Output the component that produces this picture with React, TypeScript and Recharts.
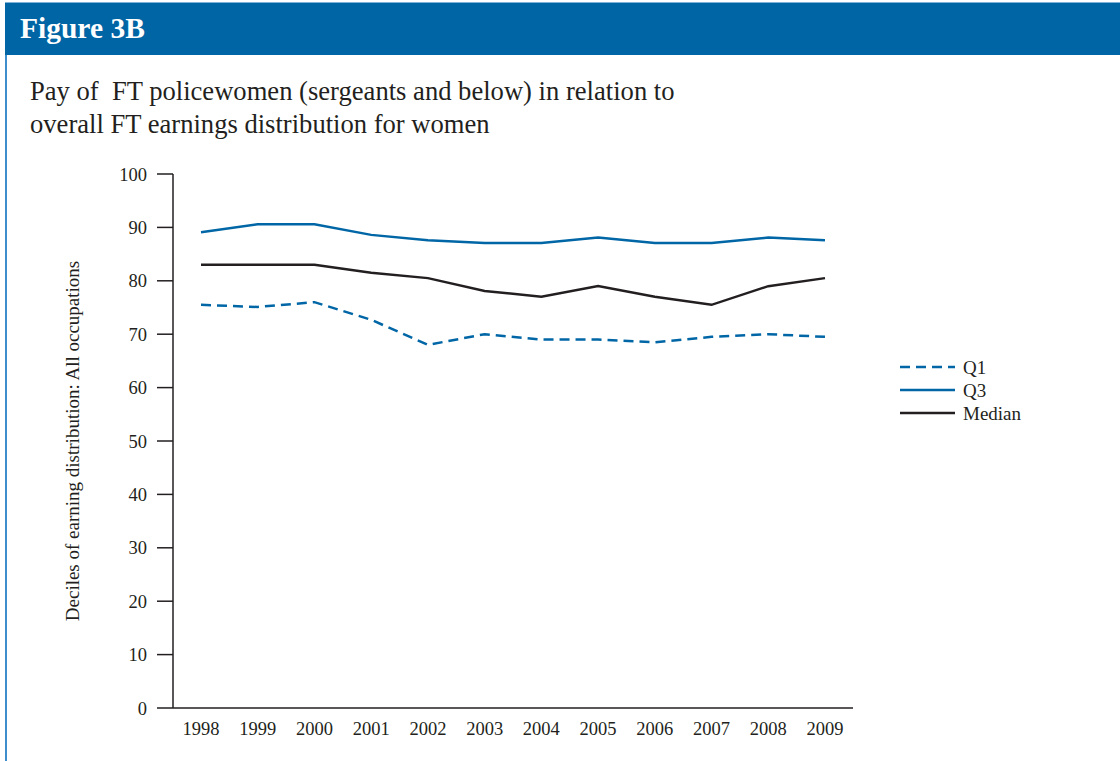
import React from 'react';
import { LineChart, Line, XAxis, YAxis, Legend } from 'recharts';

const years = [1998, 1999, 2000, 2001, 2002, 2003, 2004, 2005, 2006, 2007, 2008, 2009];
const q1 = [75.5, 75.1, 76.0, 72.7, 68.0, 70.0, 69.0, 69.0, 68.5, 69.5, 70.0, 69.5];
const q3 = [89.1, 90.6, 90.6, 88.6, 87.6, 87.1, 87.1, 88.1, 87.1, 87.1, 88.1, 87.6];
const median = [83.0, 83.0, 83.0, 81.5, 80.5, 78.1, 77.0, 79.0, 77.0, 75.5, 79.0, 80.5];
const yTicks = [0, 10, 20, 30, 40, 50, 60, 70, 80, 90, 100];

const data = years.map((y, i) => ({ year: String(y), Q1: q1[i], Q3: q3[i], Median: median[i] }));

const BLUE = '#0066a6';
const DARK = '#231f20';
const SERIF = '"Liberation Serif", "Times New Roman", serif';

const legendItems = [
  { name: 'Q1', color: BLUE, dash: '10 6' },
  { name: 'Q3', color: BLUE, dash: undefined },
  { name: 'Median', color: DARK, dash: undefined },
];

const LegendContent = () => (
  <svg width={170} height={72}>
    {legendItems.map((it, i) => (
      <g key={it.name}>
        <line x1={7} x2={62} y1={12 + i * 23} y2={12 + i * 23} stroke={it.color} strokeWidth={2.5} strokeDasharray={it.dash} />
        <text x={70} y={12 + i * 23} dominantBaseline="central" fontFamily={SERIF} fontSize={19} fill={DARK}>{it.name}</text>
      </g>
    ))}
  </svg>
);

const YLabel = (props: any) => {
  const vb = props.viewBox || {};
  const cx = 72;
  const cy = (vb.y || 0) + (vb.height || 0) / 2;
  return (
    <text x={cx} y={cy} transform={`rotate(-90 ${cx} ${cy})`} textAnchor="middle" dominantBaseline="central" fontFamily={SERIF} fontSize={19} fill={DARK}>
      Deciles of earning distribution: All occupations
    </text>
  );
};

export default function App() {
  return (
    <div style={{ position: 'absolute', left: 0, top: 0, width: 1120, height: 761, background: '#fff', overflow: 'hidden', fontFamily: SERIF }}>
      <div style={{ position: 'absolute', left: 5, top: 2, width: 1115, height: 1, background: '#7fb2d6' }} />
      <div style={{ position: 'absolute', left: 5, top: 3, width: 1115, height: 52, background: '#0065a5' }} />
      <div style={{ position: 'absolute', left: 5, top: 55, width: 2, height: 706, background: '#3d8ccb' }} />
      <div style={{ position: 'absolute', left: 20, top: 11, color: '#fff', fontWeight: 'bold', fontSize: 29.5, lineHeight: '34px' }}>Figure 3B</div>
      <div style={{ position: 'absolute', left: 30, top: 75, color: DARK, fontSize: 26.6, lineHeight: '33px' }}>
        Pay of&nbsp; FT policewomen (sergeants and below) in relation to<br />overall FT earnings distribution for women
      </div>
      <div style={{ position: 'absolute', left: 0, top: 0 }}>
        <LineChart width={1120} height={761} data={data} margin={{ top: 174, right: 267, bottom: 23, left: 0 }}>
          <XAxis
            dataKey="year"
            type="category"
            padding={{ left: 28, right: 28 }}
            interval={0}
            tickLine={false}
            tickSize={0}
            tickMargin={14}
            height={30}
            axisLine={{ stroke: DARK, strokeWidth: 1.5 }}
            tick={{ fill: DARK, fontFamily: SERIF, fontSize: 18.5 }}
          />
          <YAxis
            type="number"
            domain={[0, 100]}
            ticks={yTicks}
            interval={0}
            width={173}
            tickSize={16}
            tickMargin={10}
            axisLine={{ stroke: DARK, strokeWidth: 1.5 }}
            tickLine={{ stroke: DARK, strokeWidth: 1.5 }}
            tick={{ fill: DARK, fontFamily: SERIF, fontSize: 18.5 }}
            label={{ content: YLabel }}
          />
          <Legend
            layout="vertical"
            align="center"
            verticalAlign="middle"
            content={<LegendContent />}
            wrapperStyle={{ position: 'absolute', left: 893, top: 355, width: 170, height: 72 }}
          />
          <Line dataKey="Q1" stroke={BLUE} strokeWidth={2.5} strokeDasharray="10 6" dot={false} isAnimationActive={false} />
          <Line dataKey="Q3" stroke={BLUE} strokeWidth={2.5} dot={false} isAnimationActive={false} />
          <Line dataKey="Median" stroke={DARK} strokeWidth={2.5} dot={false} isAnimationActive={false} />
        </LineChart>
      </div>
    </div>
  );
}
